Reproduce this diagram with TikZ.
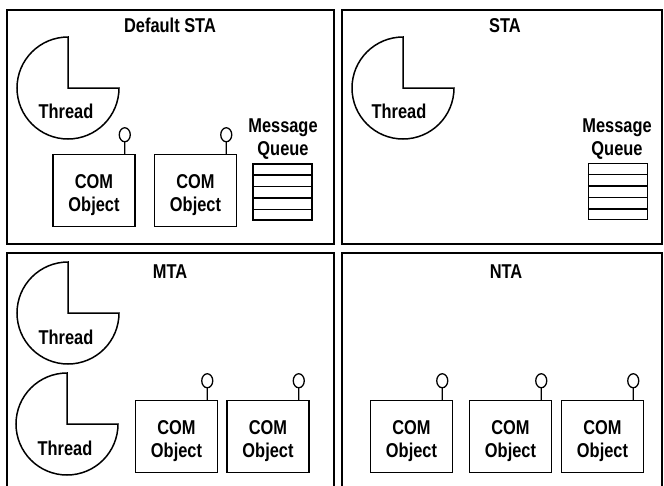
\documentclass[tikz,border=0pt]{standalone}
\usepackage{fontspec}
\setmainfont{Liberation Sans}[FakeStretch=0.82]
\usetikzlibrary{calc}
\tikzset{
  panel/.style={line width=1.8pt},
  txt/.style={font=\bfseries\fontsize{20pt}{23pt}\selectfont, inner sep=0pt},
  comobj/.style={draw, line width=1.5pt, minimum width=82pt, minimum height=72pt, inner sep=0pt},
  comtext/.style={txt, align=center, text depth=0pt},
  threadshape/.style={line width=1.5pt},
  queuebox/.style={draw, line width=1.5pt, minimum width=59pt, minimum height=56pt, inner sep=0pt},
  lolli/.style={line width=1.3pt},
  rowline/.style={line width=1.5pt}
}
\newcommand\threadat[2]{%
  \draw[threadshape] (#1,#2) -- (#1,#2+51) arc[start angle=90,end angle=360,radius=51] -- cycle;}
\newcommand\comat[3]{%
  \node[comobj] (#1) at (#2,#3) {};
  \node[comtext] (#1t) at ([yshift=-2.5pt]#1.center) {COM\\Object};
  \draw[lolli] ([xshift=-11pt]#1.north east) -- ++(0,12) ++(0,7) ellipse[x radius=5.5, y radius=7];}
\newcommand\queuerows[1]{%
  \foreach \i in {1,...,4}
    \draw[rowline] ($(#1.north west)!\i/5!(#1.south west)$) -- ($(#1.north east)!\i/5!(#1.south east)$);}
\begin{document}
\begin{tikzpicture}[x=1pt,y=1pt]
\useasboundingbox (0,0) rectangle (664,-485);
% panels
\draw[panel] (7,-10) rectangle (334,-244);
\draw[panel] (342,-10) rectangle (662,-244);
\draw[panel] (7,-486) -- (7,-253) -- (334,-253) -- (334,-486);
\draw[panel] (342,-486) -- (342,-253) -- (662,-253) -- (662,-486);
% titles
\node[txt, anchor=base] (t1) at (170,-32) {Default STA};
\node[txt, anchor=base] (t2) at (505,-32) {STA};
\node[txt, anchor=base] (t3) at (170,-278) {MTA};
\node[txt, anchor=base] (t4) at (506,-278) {NTA};
% threads
\threadat{68}{-88}
\node[txt, anchor=base] (th1) at (66,-118) {Thread};
\threadat{403}{-88}
\node[txt, anchor=base] (th2) at (399,-118) {Thread};
\threadat{68}{-313}
\node[txt, anchor=base] (th3) at (66,-344) {Thread};
\threadat{67}{-424}
\node[txt, anchor=base] (th4) at (65,-455) {Thread};
% COM objects
\comat{c1}{94}{-190.5}
\comat{c2}{195.5}{-190.5}
\comat{c3}{176.5}{-436.5}
\comat{c4}{268}{-436.5}
\comat{c5}{411.5}{-436.5}
\comat{c6}{510.5}{-436.5}
\comat{c7}{602.5}{-436.5}
% message queues
\node[txt, anchor=base] (m1) at (283,-132) {Message};
\node[txt, anchor=base] (u1) at (283,-155) {Queue};
\node[queuebox] (q1) at (282.5,-192) {};
\queuerows{q1}
\node[txt, anchor=base] (m2) at (617,-132) {Message};
\node[txt, anchor=base] (u2) at (617,-155) {Queue};
\node[queuebox] (q2) at (618,-191.5) {};
\queuerows{q2}
\end{tikzpicture}
\end{document}
